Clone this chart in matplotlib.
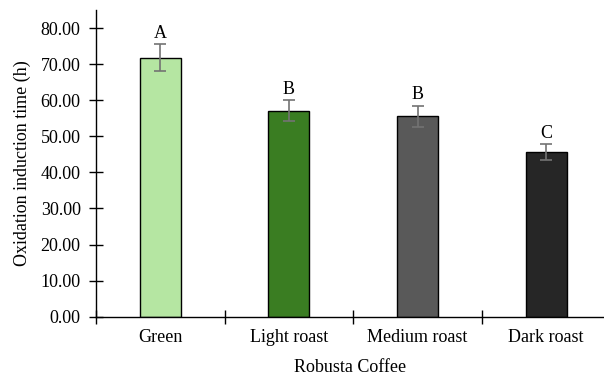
import matplotlib
matplotlib.use("Agg")
import matplotlib.pyplot as plt
from matplotlib.ticker import FixedLocator, NullFormatter

categories = ["Green", "Light roast", "Medium roast", "Dark roast"]
values = [71.8, 57.1, 55.6, 45.6]
errors = [3.7, 3.0, 2.9, 2.3]
letters = ["A", "B", "B", "C"]
colors = ["#b5e6a2", "#3a7d22", "#595959", "#262626"]
yticks = [0, 10, 20, 30, 40, 50, 60, 70, 80]

plt.rcParams['font.family'] = ['Liberation Serif', 'DejaVu Serif']
fig = plt.figure(figsize=(6.04, 3.76), dpi=100)
ax = fig.add_axes([96/604, 59.3/376, (604-96)/604, (316.7-10)/376])

x = list(range(len(categories)))
ax.bar(x, values, width=0.32, color=colors, edgecolor="black", linewidth=1.0, zorder=2)
ax.errorbar(x, values, yerr=errors, fmt="none", ecolor="#737373", elinewidth=1.2, capsize=4, capthick=1.2, zorder=3)
for xi, v, e, l in zip(x, values, errors, letters):
    ax.text(xi, v + e + 0.6, l, ha="center", va="bottom", fontsize=13)

ax.set_xlim(-0.5, 3.45)
ax.set_ylim(0, 85)
ax.set_yticks(yticks)
ax.set_yticklabels([f"{t:.2f}" for t in yticks], fontsize=13)
ax.xaxis.set_major_locator(FixedLocator([-0.5, 0.5, 1.5, 2.5]))
ax.xaxis.set_major_formatter(NullFormatter())
ax.xaxis.set_minor_locator(FixedLocator(x))
ax.set_xticklabels(categories, minor=True, fontsize=13)
ax.tick_params(axis="x", which="major", direction="inout", length=10, width=1)
ax.tick_params(axis="x", which="minor", direction="in", length=6, width=1, pad=9)
ax.tick_params(axis="y", direction="inout", length=10, width=1, pad=6)
for s in ["top", "right"]:
    ax.spines[s].set_visible(False)
ax.spines["left"].set_linewidth(1)
ax.spines["bottom"].set_linewidth(1)
ax.set_xlabel("Robusta Coffee", fontsize=13, labelpad=9)
ax.set_ylabel("Oxidation induction time (h)", fontsize=13, labelpad=7)
fig.savefig("out.png", dpi=100)
